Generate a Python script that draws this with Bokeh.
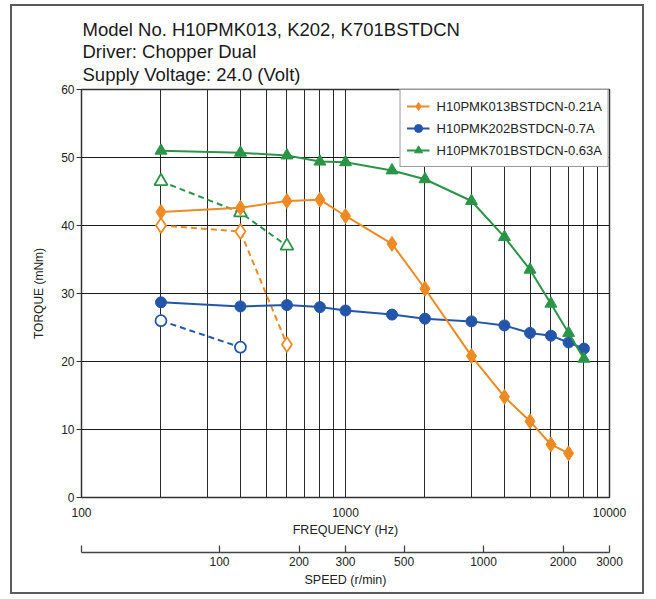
from bokeh.plotting import figure
from bokeh.models import (Range1d, LogScale, LogAxis, FixedTicker, BasicTickFormatter,
                          Title, Legend, LegendItem)
from bokeh.embed import file_html
from bokeh.resources import INLINE

# ---------------- data ----------------
freq_013 = [200, 400, 600, 800, 1000, 1500, 2000, 3000, 4000, 5000, 6000, 7000]
torque_013 = [42.0, 42.6, 43.6, 43.8, 41.4, 37.3, 30.7, 20.8, 14.8, 11.2, 7.8, 6.5]
freq_202 = [200, 400, 600, 800, 1000, 1500, 2000, 3000, 4000, 5000, 6000, 7000, 8000]
torque_202 = [28.7, 28.1, 28.3, 28.0, 27.5, 26.9, 26.3, 25.9, 25.3, 24.2, 23.8, 22.8, 21.9]
freq_701 = [200, 400, 600, 800, 1000, 1500, 2000, 3000, 4000, 5000, 6000, 7000, 8000]
torque_701 = [51.0, 50.7, 50.3, 49.4, 49.3, 48.1, 46.8, 43.6, 38.3, 33.5, 28.5, 24.2, 20.4]

# dashed (open markers) series
freq_013_d = [200, 400, 600]
torque_013_d = [40.0, 39.1, 22.5]
freq_202_d = [200, 400]
torque_202_d = [26.0, 22.1]
freq_701_d = [200, 400, 600]
torque_701_d = [46.5, 41.9, 37.0]

labels = ["H10PMK013BSTDCN-0.21A", "H10PMK202BSTDCN-0.7A", "H10PMK701BSTDCN-0.63A"]
title_lines = ["Model No. H10PMK013, K202, K701BSTDCN", "Driver: Chopper Dual",
               "Supply Voltage: 24.0 (Volt)"]

freq_ticks = [100, 1000, 10000]
freq_minor = [m * 10 ** e for e in (2, 3) for m in range(2, 10)]
y_ticks = [0, 10, 20, 30, 40, 50, 60]
speed_range = (30, 3000)
speed_ticks = [30, 100, 200, 300, 500, 1000, 2000, 3000]

ORANGE = "#EE8A24"
BLUE = "#2356AA"
GREEN = "#2B9547"
FONT = "Liberation Sans"
TXT = "#222222"

# ---------------- figure ----------------
p = figure(width=634, height=590, x_axis_type="log",
           x_range=Range1d(100, 10000), y_range=Range1d(0, 60),
           output_backend="svg", toolbar_location=None,
           min_border_left=69, min_border_right=37, min_border_top=83, min_border_bottom=99)
p.styles = {"border": "2px solid #5a5a5a", "margin-left": "10px", "margin-top": "4px"}
p.background_fill_color = "white"
p.border_fill_color = "white"
p.outline_line_color = "#333333"
p.outline_line_width = 1.5

# three-line title block
p.title.text = "\n".join(title_lines)
p.title.align = "left"
p.title.offset = 1
p.title.text_font = FONT
p.title.text_font_size = "18.5px"
p.title.text_font_style = "normal"
p.title.text_color = "#1a1a1a"
p.title.text_line_height = 1.08
p.title.standoff = 9

# grids
p.xgrid.ticker = FixedTicker(ticks=freq_ticks, minor_ticks=freq_minor)
p.xgrid.grid_line_color = "#2a2a2a"
p.xgrid.grid_line_width = 1
p.xgrid.minor_grid_line_color = "#2a2a2a"
p.xgrid.minor_grid_line_width = 1
p.ygrid.ticker = FixedTicker(ticks=y_ticks)
p.ygrid.grid_line_color = "#1a1a1a"
p.ygrid.grid_line_width = 1.2

# frequency axis
xa = p.xaxis[0]
xa.ticker = FixedTicker(ticks=freq_ticks)
xa.formatter = BasicTickFormatter(use_scientific=False)
xa.major_tick_out = 0
xa.major_tick_in = 0
xa.minor_tick_out = 0
xa.minor_tick_in = 0
xa.axis_line_color = None
xa.major_label_standoff = 10
xa.major_label_text_font = FONT
xa.major_label_text_font_size = "12px"
xa.major_label_text_color = TXT
xa.axis_label = "FREQUENCY (Hz)"
xa.axis_label_text_font = FONT
xa.axis_label_text_font_size = "12.5px"
xa.axis_label_text_font_style = "normal"
xa.axis_label_text_color = TXT
xa.axis_label_standoff = 3

# spacer between the two bottom axes
spacer = Title(text=" ", text_font_size="10px", standoff=0)
p.add_layout(spacer, "below")

# speed axis
p.extra_x_ranges = {"speed": Range1d(*speed_range)}
p.extra_x_scales = {"speed": LogScale()}
sa = LogAxis(x_range_name="speed")
sa.ticker = FixedTicker(ticks=speed_ticks)
sa.formatter = BasicTickFormatter(use_scientific=False)
sa.major_label_overrides = {30: ""}
sa.major_tick_in = 7
sa.major_tick_out = 0
sa.minor_tick_in = 0
sa.minor_tick_out = 0
sa.axis_line_color = "#444444"
sa.axis_line_width = 1.3
sa.major_tick_line_color = "#444444"
sa.major_tick_line_width = 1.3
sa.major_label_standoff = 4
sa.major_label_text_font = FONT
sa.major_label_text_font_size = "12px"
sa.major_label_text_color = TXT
sa.axis_label = "SPEED (r/min)"
sa.axis_label_text_font = FONT
sa.axis_label_text_font_size = "12.5px"
sa.axis_label_text_font_style = "normal"
sa.axis_label_text_color = TXT
sa.axis_label_standoff = 4
p.add_layout(sa, "below")

# y axis
ya = p.yaxis[0]
ya.ticker = FixedTicker(ticks=y_ticks)
ya.major_tick_out = 5
ya.major_tick_in = 0
ya.minor_tick_out = 0
ya.minor_tick_in = 0
ya.axis_line_color = None
ya.major_tick_line_color = "#333333"
ya.major_label_standoff = 2
ya.major_label_text_font = FONT
ya.major_label_text_font_size = "12px"
ya.major_label_text_color = TXT
ya.axis_label = "TORQUE (mNm)"
ya.axis_label_text_font = FONT
ya.axis_label_text_font_size = "12px"
ya.axis_label_text_font_style = "normal"
ya.axis_label_text_color = TXT
ya.axis_label_standoff = 12

# ---------------- series ----------------
LW = 2
# dashed open series
p.line(freq_013_d, torque_013_d, color=ORANGE, line_width=LW, line_dash="6 4")
p.scatter(freq_013_d, torque_013_d, marker="diamond", size=15, line_color=ORANGE,
          fill_color="white", line_width=1.8)
p.line(freq_202_d, torque_202_d, color=BLUE, line_width=LW, line_dash="6 4")
p.scatter(freq_202_d, torque_202_d, marker="circle", size=11, line_color=BLUE,
          fill_color="white", line_width=1.8)
p.line(freq_701_d, torque_701_d, color=GREEN, line_width=LW, line_dash="6 4")
p.scatter(freq_701_d, torque_701_d, marker="triangle", size=13, line_color=GREEN,
          fill_color="white", line_width=1.8)

# solid series
items = {}
for fx, ty, col, mk, sz, lab in [
        (freq_202, torque_202, BLUE, "circle", 11, labels[1]),
        (freq_013, torque_013, ORANGE, "diamond", 15, labels[0]),
        (freq_701, torque_701, GREEN, "triangle", 12, labels[2])]:
    lr = p.line(fx, ty, color=col, line_width=LW)
    sr = p.scatter(fx, ty, marker=mk, size=sz, color=col)
    items[lab] = [lr, sr]

legend = Legend(items=[LegendItem(label=lab, renderers=items[lab]) for lab in labels],
                location="top_right")
legend.margin = 0
legend.padding = 6
legend.spacing = 2
legend.glyph_width = 23
legend.glyph_height = 20
legend.label_height = 20
legend.label_standoff = 7
legend.label_text_font = FONT
legend.label_text_font_size = "13px"
legend.label_text_color = TXT
legend.border_line_color = "#333333"
legend.border_line_width = 1.2
legend.background_fill_color = "white"
legend.background_fill_alpha = 1.0
p.add_layout(legend, "center")

open("out.html", "w").write(file_html(p, INLINE))
